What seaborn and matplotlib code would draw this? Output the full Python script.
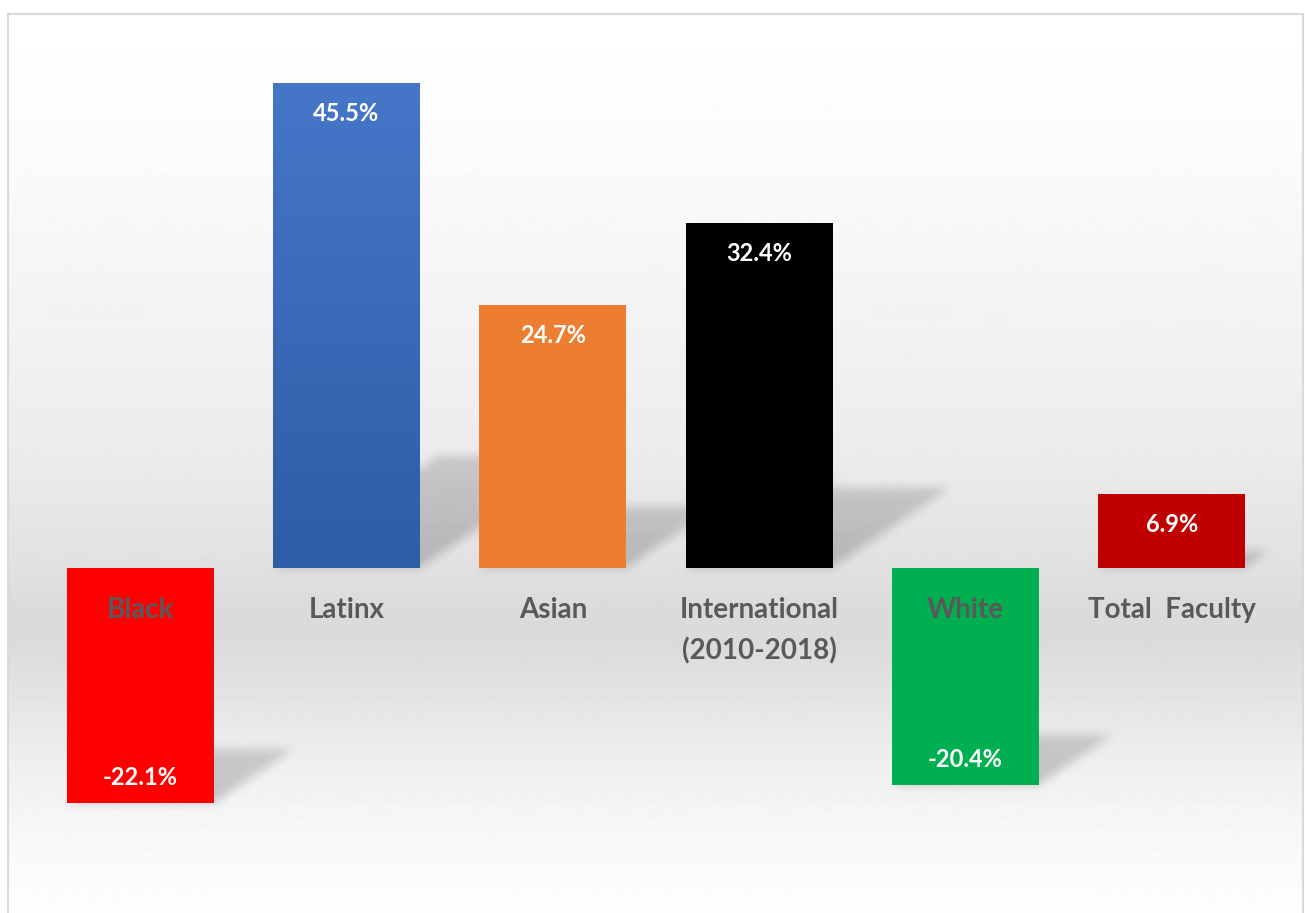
import numpy as np
import pandas as pd
import matplotlib
matplotlib.use("Agg")
import matplotlib.pyplot as plt
import seaborn as sns
from matplotlib.patches import Rectangle

# Percent change in faculty by group
categories = ["Black", "Latinx", "Asian", "International\n(2010-2018)", "White", "Total  Faculty"]
values = [-22.1, 45.5, 24.7, 32.4, -20.4, 6.9]
bar_colors = ["#FF0000", "#4472C4", "#ED7D31", "#000000", "#00B050", "#C00000"]

df = pd.DataFrame({"group": categories, "change": values})

sns.set_style("white")
plt.rcParams["font.family"] = ["Lato", "DejaVu Sans"]

W, H = 1305, 913
fig = plt.figure(figsize=(W / 100, H / 100), dpi=100)
fig.patch.set_facecolor("white")

# --- background gradient (white -> gray band under the labels -> white) ---
bg = fig.add_axes([8 / W, 0, (1303 - 8) / W, (H - 14) / H])
bg.axis("off")
rows = np.arange(14, H)
stop_px = [14, 150, 300, 450, 560, 615, 645, 700, 760, 830, 913]
stop_gray = [1.0, 0.985, 0.955, 0.925, 0.885, 0.855, 0.86, 0.895, 0.935, 0.97, 0.995]
grad = np.interp(rows, stop_px, stop_gray)
bg.imshow(grad[:, None], aspect="auto", cmap="gray", vmin=0, vmax=1,
          extent=[0, 1, 0, 1], interpolation="bilinear")

# --- main axes ---
ax_px = (37, 35, 1275, 877)  # left, top, right, bottom in pixels
ax = fig.add_axes([ax_px[0] / W, (H - ax_px[3]) / H,
                   (ax_px[2] - ax_px[0]) / W, (ax_px[3] - ax_px[1]) / H])
ax.patch.set_alpha(0)

ymin, ymax = -29, 50
bar_w = 0.712

sns.barplot(data=df, x="group", y="change", hue="group", palette=bar_colors,
            saturation=1, width=bar_w, legend=False, ax=ax, zorder=3,
            linewidth=0, edgecolor="none")

# Latinx bar has a slight vertical gradient
bars = sorted(ax.patches, key=lambda p: p.get_x())
lat = bars[1]
blue = np.linspace(0, 1, 100)[:, None]
top_c = np.array([0x46, 0x76, 0xC8]) / 255
bot_c = np.array([0x2E, 0x5C, 0xA6]) / 255
img = top_c[None, None, :] * (1 - blue[..., None]) + bot_c[None, None, :] * blue[..., None]
ax.imshow(img, extent=[lat.get_x(), lat.get_x() + lat.get_width(), 0, values[1]],
          aspect="auto", zorder=3.5, interpolation="bilinear")

# --- soft perspective shadows behind the bars ---
nx, ny = ax_px[2] - ax_px[0], ax_px[3] - ax_px[1]
xs = np.linspace(-0.5, 5.5, nx)
ys = np.linspace(ymax, ymin, ny)
X, Y = np.meshgrid(xs, ys)
ppu_x = nx / 6.0
ppu_y = ny / (ymax - ymin)
mask = np.zeros((ny, nx))
for i, v in enumerate(values):
    h = abs(v)
    yb = min(0, v)
    dy = 0.23 * h
    dx = 0.34 * h * ppu_y / ppu_x
    t = (Y - yb) / dy
    xl, xr = i - bar_w / 2, i + bar_w / 2
    inside = (t >= 0) & (t <= 1) & (X >= xl + t * dx) & (X <= xr + t * dx)
    mask = np.maximum(mask, inside * (1 - 0.25 * np.clip(t, 0, 1)))

k = np.ones(11) / 11
for _ in range(2):
    mask = np.apply_along_axis(lambda r: np.convolve(r, k, mode="same"), 1, mask)
    mask = np.apply_along_axis(lambda c: np.convolve(c, k, mode="same"), 0, mask)
shadow = np.zeros((ny, nx, 4))
shadow[..., 3] = mask * 0.2
ax.imshow(shadow, extent=[-0.5, 5.5, ymin, ymax], aspect="auto", zorder=1,
          interpolation="bilinear")

ax.set_xlim(-0.5, 5.5)
ax.set_ylim(ymin, ymax)
ax.axis("off")

# category labels
for i, name in enumerate(categories):
    for j, line in enumerate(name.split("\n")):
        ax.text(i, -4.69 - j * 3.94, line, ha="center", va="baseline",
                color="#595959", fontsize=20, fontweight="bold", zorder=5)

# value labels inside bar ends
for i, v in enumerate(values):
    off = -27.4 if v > 0 else 13
    ax.annotate(f"{v:.1f}%", xy=(i, v), xytext=(0, off), textcoords="offset points",
                ha="center", va="baseline", color="white", fontsize=17,
                fontweight="bold", zorder=6)

# chart frame
fig.add_artist(Rectangle((8 / W, -0.05), (1303 - 8) / W, (H - 14) / H + 0.05,
                         transform=fig.transFigure, fill=False,
                         edgecolor="#d9d9d9", linewidth=1.5))

fig.savefig("out.png", dpi=100)
